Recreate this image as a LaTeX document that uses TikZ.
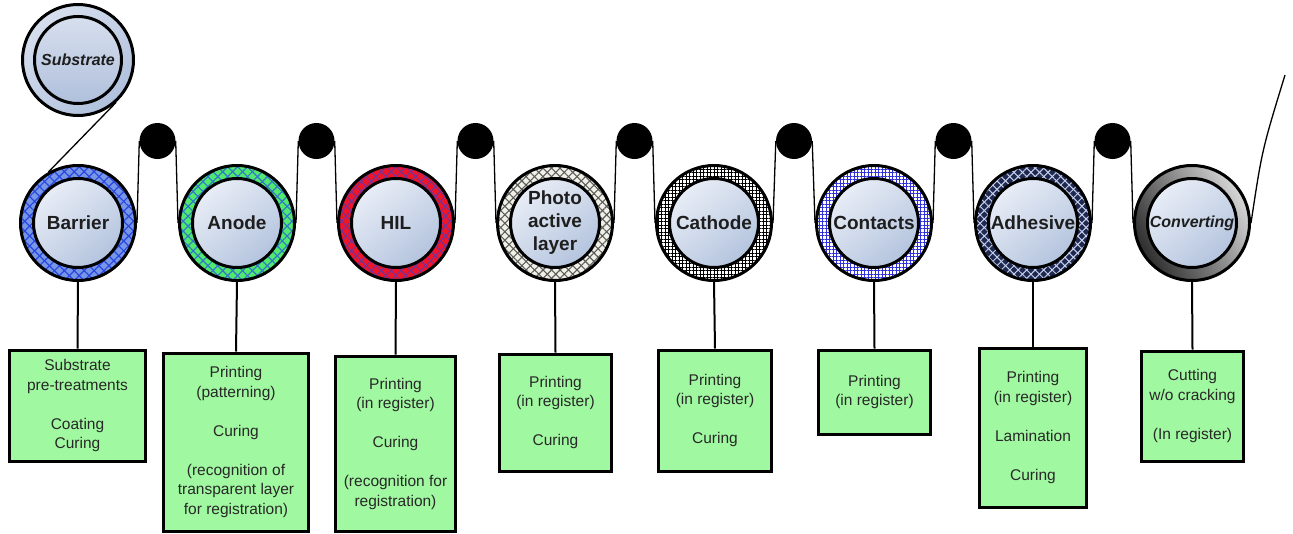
\documentclass[tikz,border=0pt]{standalone}
\usepackage{fontspec}
\setmainfont{Liberation Sans}
\usetikzlibrary{patterns.meta}
\pgfdeclarelayer{bg}
\pgfsetlayers{bg,main}
\definecolor{boxgreen}{RGB}{160,248,160}
\definecolor{boxtext}{RGB}{40,40,40}
\definecolor{labeltext}{RGB}{30,30,30}
\definecolor{discA}{RGB}{232,237,246}
\definecolor{discB}{RGB}{180,196,222}
\definecolor{subA}{RGB}{215,223,238}
\definecolor{subB}{RGB}{176,192,220}
% ring colours: base / hatch
\definecolor{barrierBase}{RGB}{120,150,230}
\definecolor{barrierLine}{RGB}{40,70,225}
\definecolor{anodeBase}{RGB}{80,235,110}
\definecolor{anodeLine}{RGB}{50,120,200}
\definecolor{hilBase}{RGB}{240,20,40}
\definecolor{hilLine}{RGB}{120,50,150}
\definecolor{photoBase}{RGB}{240,240,230}
\definecolor{photoLine}{RGB}{90,90,90}
\definecolor{contactsLine}{RGB}{50,50,220}
\definecolor{adhesiveBase}{RGB}{30,40,80}
\definecolor{adhesiveLine}{RGB}{200,210,235}
\definecolor{convDark}{RGB}{45,45,45}
\definecolor{convLight}{RGB}{215,215,215}
\begin{document}
\begin{tikzpicture}[x=1pt,y=-1pt,
  web/.style={draw=black, line width=1.3pt},
  conn/.style={draw=black, line width=2pt},
  pulley/.style={circle, fill=black, minimum size=36pt, inner sep=0pt},
  ring/.style={circle, minimum size=115pt, inner sep=0pt, line width=3pt},
  xhatch/.style n args={4}{ring, fill=#1,
    postaction={pattern={Lines[angle=45,distance=#3,line width=#4]}, pattern color=#2},
    postaction={pattern={Lines[angle=-45,distance=#3,line width=#4]}, pattern color=#2},
    postaction={draw=black, line width=3pt}},
  ghatch/.style n args={4}{ring, fill=#1,
    postaction={pattern={Lines[angle=0,distance=#3,line width=#4]}, pattern color=#2},
    postaction={pattern={Lines[angle=90,distance=#3,line width=#4]}, pattern color=#2},
    postaction={draw=black, line width=3pt}},
  disc/.style={circle, minimum size=89pt, inner sep=0pt, draw=black, line width=3pt,
    top color=discA, bottom color=discB, shading angle=40, align=center,
    text=labeltext, font=\fontsize{19}{23}\selectfont\bfseries},
  disclabel/.style={disc, font=\fontsize{16}{19}\selectfont\bfseries\itshape},
  box/.style={draw=black, line width=3pt, fill=boxgreen, inner sep=0pt, align=center,
    anchor=north, text=boxtext, font=\fontsize{15.5}{19.5}\selectfont}
]
\useasboundingbox (0,0) rectangle (1293,533);

% supply roll
\node[circle, minimum size=111pt, inner sep=0pt, draw=black, line width=3pt,
  top color=subA, bottom color=subB, shading angle=40] (sub) at (78,60) {};
\node[disclabel, minimum size=87pt, top color=subA, bottom color=subB] (sub-in) at (78,60) {Substrate};

% process rollers: patterned outer rings
\node[xhatch={barrierBase}{barrierLine}{7pt}{1.2pt}] (barrier) at (78,223) {};
\node[xhatch={anodeBase}{anodeLine}{7pt}{1.2pt}] (anode) at (237,223) {};
\node[xhatch={hilBase}{hilLine}{7pt}{1.2pt}] (hil) at (396,223) {};
\node[xhatch={photoBase}{photoLine}{6pt}{1.1pt}] (photo) at (555,223) {};
\node[ghatch={white}{black}{3.5pt}{0.9pt}] (cathode) at (714,223) {};
\node[ghatch={white}{contactsLine}{3.5pt}{0.9pt}] (contacts) at (874,223) {};
\node[xhatch={adhesiveBase}{adhesiveLine}{6pt}{1pt}] (adhesive) at (1033,223) {};
\node[ring, left color=convDark, right color=convLight,
  shading angle=120, postaction={draw=black, line width=3pt}] (converting) at (1192,223) {};

% inner discs with labels
\node[disc] (barrier-in) at (78,223) {Barrier};
\node[disc] (anode-in) at (237,223) {Anode};
\node[disc] (hil-in) at (396,223) {HIL};
\node[disc] (photo-in) at (555,223) {Photo\\active\\layer};
\node[disc] (cathode-in) at (714,223) {Cathode};
\node[disc] (contacts-in) at (874,223) {Contacts};
\node[disc] (adhesive-in) at (1033,223) {Adhesive};
\node[disclabel] (converting-in) at (1192,223) {Converting};

% guide pulleys
\node[pulley] (p1) at (157.5,141) {};
\node[pulley] (p2) at (316.5,141) {};
\node[pulley] (p3) at (475.5,141) {};
\node[pulley] (p4) at (634.5,141) {};
\node[pulley] (p5) at (794,141) {};
\node[pulley] (p6) at (953.5,141) {};
\node[pulley] (p7) at (1112.5,141) {};
\coordinate (webend) at (1285,75);

% web path, behind the rolls
\begin{pgfonlayer}{bg}
\draw[web] (sub.-48) -- (barrier.120);
\draw[web] (barrier.east) -- (p1.west);
\draw[web] (p1.east) -- (anode.west);
\draw[web] (anode.east) -- (p2.west);
\draw[web] (p2.east) -- (hil.west);
\draw[web] (hil.east) -- (p3.west);
\draw[web] (p3.east) -- (photo.west);
\draw[web] (photo.east) -- (p4.west);
\draw[web] (p4.east) -- (cathode.west);
\draw[web] (cathode.east) -- (p5.west);
\draw[web] (p5.east) -- (contacts.west);
\draw[web] (contacts.east) -- (p6.west);
\draw[web] (p6.east) -- (adhesive.west);
\draw[web] (adhesive.east) -- (p7.west);
\draw[web] (p7.east) -- (converting.west);
\draw[web] (converting.east) .. controls (1262,150) .. (webend);
\end{pgfonlayer}

% process step boxes
\node[box, minimum width=136pt, minimum height=111pt] (b1) at (77.5,348.5)
  {Substrate\\pre-treatments\\[19.5pt]Coating\\Curing};
\node[box, minimum width=145pt, minimum height=178pt] (b2) at (236,351.5)
  {Printing\\(patterning)\\[19.5pt]Curing\\[19.5pt](recognition of\\transparent layer\\for registration)};
\node[box, minimum width=120pt, minimum height=175pt] (b3) at (395.5,354.5)
  {Printing\\(in register)\\[19.5pt]Curing\\[19.5pt](recognition for\\registration)};
\node[box, minimum width=112pt, minimum height=117pt] (b4) at (555.5,352.5)
  {Printing\\(in register)\\[19.5pt]Curing};
\node[box, minimum width=113pt, minimum height=121pt] (b5) at (715,348.5)
  {Printing\\(in register)\\[19.5pt]Curing};
\node[box, minimum width=112pt, minimum height=84pt] (b6) at (874.5,348.5)
  {Printing\\(in register)};
\node[box, minimum width=107pt, minimum height=159pt] (b7) at (1033,346.5)
  {Printing\\(in register)\\[19.5pt]Lamination\\[19.5pt]Curing};
\node[box, minimum width=102pt, minimum height=110pt] (b8) at (1192.5,349.5)
  {Cutting\\w/o cracking\\[19.5pt](In register)};

% roller-to-step connectors
\draw[conn] (barrier.south) -- (b1.north);
\draw[conn] (anode.south) -- (b2.north);
\draw[conn] (hil.south) -- (b3.north);
\draw[conn] (photo.south) -- (b4.north);
\draw[conn] (cathode.south) -- (b5.north);
\draw[conn] (contacts.south) -- (b6.north);
\draw[conn] (adhesive.south) -- (b7.north);
\draw[conn] (converting.south) -- (b8.north);
\end{tikzpicture}
\end{document}
